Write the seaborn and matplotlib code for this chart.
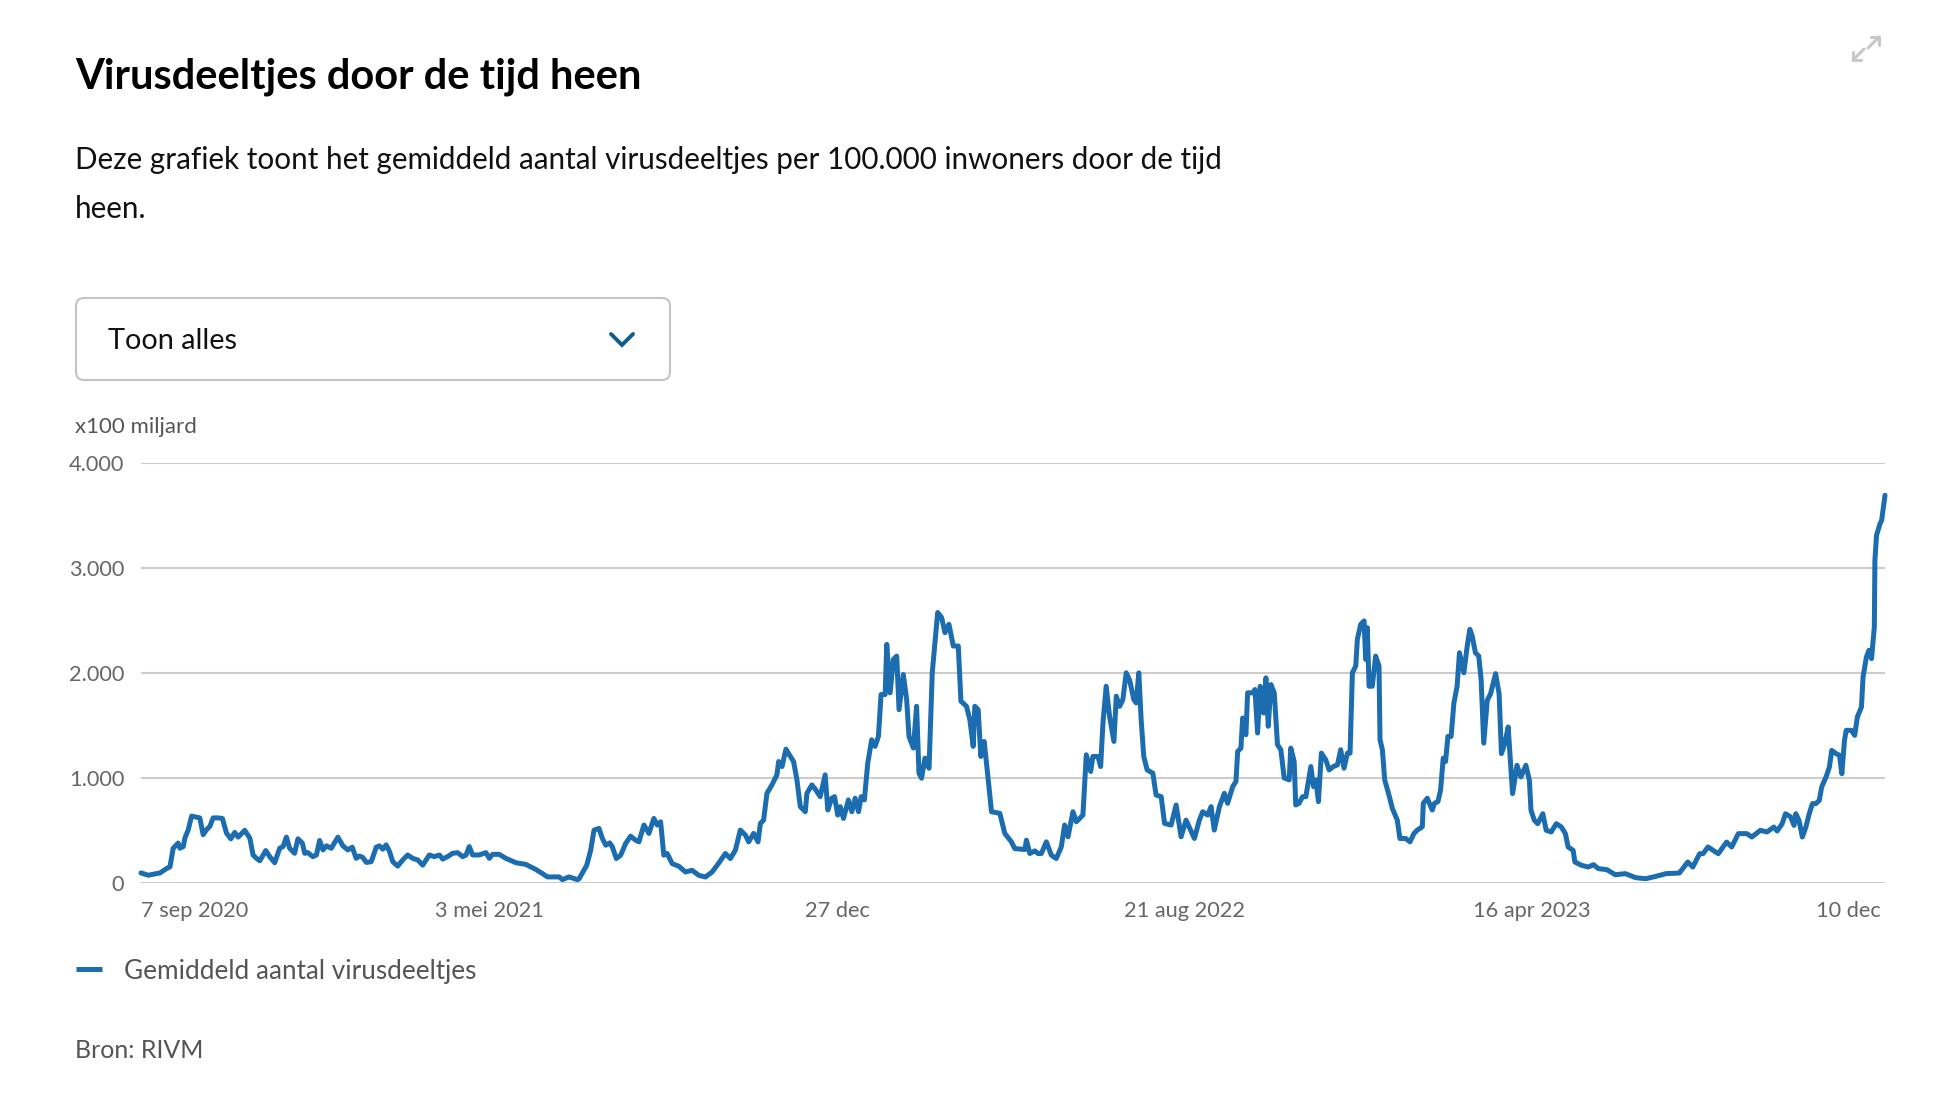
import numpy as np
import pandas as pd
import matplotlib
matplotlib.use("Agg")
import matplotlib.pyplot as plt
import seaborn as sns
from matplotlib.patches import FancyBboxPatch
from matplotlib.lines import Line2D
from matplotlib.transforms import IdentityTransform

# ---------------- data ----------------
start_date = "2020-09-07"

# days after start date, and values (x100 miljard per 100.000 inwoners)
days_2020 = [0, 5, 13, 17.5, 19.8, 22, 25.4, 26.6, 28.9, 30, 32.3, 34.6, 36.8, 40.2, 42.5, 44.8,
             47.1, 49.3, 52.7, 55.7, 58.4, 61.4, 64.1, 66.4, 70.9, 74.4, 76.6, 78.9, 81.2, 85.3,
             88, 91.4, 94.8, 97.1, 99.4, 101.6, 105, 107.3, 110.3, 111.9, 114.1, 117.5, 119.9,
             122.1, 124.4, 126.7, 130.1, 134.6, 138, 141.4, 144.4, 147.1, 149.4, 151.6, 154,
             157.4, 160.8, 163, 165.3, 167.6, 169.9, 172.1, 175.5, 178.9, 182.3, 185.7, 189.2,
             192.6, 197.1, 200.5, 204, 206.2, 209.6, 213, 216.4, 219.9, 222.2, 224.4, 226.7,
             231.2, 235.8, 238.1, 240.3, 244.9, 249.4, 256.3, 263.1, 269.9, 274.4, 277.8, 285.8,
             288.1, 292.6, 298.3]
vals_2020 = [96, 74, 96, 138, 154, 331, 380, 331, 347, 428, 508, 637, 630, 620, 460, 508,
             540, 620, 620, 614, 476, 421, 482, 437, 502, 428, 267, 235, 212, 309,
             251, 193, 331, 347, 437, 331, 283, 421, 380, 283, 289, 251, 267,
             405, 315, 354, 331, 437, 354, 315, 341, 235, 257, 244, 196,
             203, 341, 354, 322, 363, 299, 203, 161, 219, 267, 235, 219,
             170, 267, 251, 267, 228, 251, 283, 289, 251, 267, 347, 267,
             267, 289, 235, 273, 273, 235, 193, 177, 129, 90, 58, 58,
             32, 58, 32]

days_2021 = [299.5, 304.7, 307.4, 309.7, 313.1, 315.4, 317.7, 320.4, 322.2, 324.9, 327.9, 331.3,
             334.7, 338.1, 340.4, 343.8, 347.2, 350.6, 352.9, 355.2, 357.4, 359.7, 363.1, 367.7,
             372.2, 376.7, 381.3, 385.9, 390.4, 395, 399.5, 402.9, 406.3, 409.7, 413.2, 415.4,
             418.8, 421.8, 423.4, 425.6, 427.9, 431.3, 434.7, 435.9, 438.2, 440.9, 443.9, 446.1,
             448.4, 450.7, 454.1, 455.2, 458.6, 461.3, 464.3, 467.7, 469.5, 472.2, 474.1, 476.3,
             478, 480.2, 483.6, 485.9, 488.2, 490.5, 492.3, 494.5, 496.8, 499.5, 501.8, 504.1,
             505.9, 508.7, 509.8, 512.1, 514.3, 516.6, 518.2, 521.1, 523.4, 525, 528, 530.2,
             531.8, 533.6, 535.9, 538.7, 540.9, 544.6, 547.3, 549.6, 552.3, 555.3, 558.7, 560.5,
             564.3, 566.6, 568.9, 570, 572.3, 574.1, 576.4, 578.7, 581.4, 587.1, 590.5, 595,
             597.3, 604.2, 605.3, 607.6, 611, 613.2]
vals_2021 = [40, 169, 312, 504, 520, 424, 360, 382, 344, 233, 265, 376,
             446, 408, 392, 552, 472, 615, 552, 583, 265, 281, 185, 159,
             105, 121, 73, 57, 105, 191, 281, 233, 312, 504, 456, 392,
             472, 392, 567, 599, 854, 934, 1030, 1157, 1109, 1275, 1205, 1157,
             982, 727, 679, 854, 934, 886, 822, 1030, 695, 807, 822, 647,
             727, 615, 791, 679, 807, 679, 822, 791, 1141, 1364, 1301, 1396,
             1795, 1795, 2273, 1811, 2129, 2161, 1651, 1986, 1747, 1396, 1285, 1683,
             1046, 998, 1189, 1093, 2002, 2576, 2528, 2384, 2464, 2257, 2257, 1731,
             1683, 1556, 1301, 1683, 1651, 1205, 1348, 1046, 679, 663, 472, 392,
             328, 319, 408, 281, 306, 281]

days_2022 = [615.5, 618.9, 622.3, 625.7, 629.1, 631.4, 633.7, 637.1, 639.4, 643.9, 646.2, 649.2,
             650.7, 654.2, 656, 657.6, 659.8, 662.1, 665.1, 666.7, 669, 671.2, 673.5, 675.8,
             678.7, 680.3, 682.1, 683.7, 685.5, 687.8, 691.7, 693.9, 697.4, 699.7, 704.2, 707.6,
             711, 714.4, 720.1, 723.5, 725.8, 729.2, 731.5, 733.7, 737.2, 740.6, 742.8, 746.3,
             748.5, 749.7, 751.9, 753.1, 755.3, 756.5, 759.9, 761.5, 763.3, 765.1, 767.4, 769,
             770.6, 772.4, 774.7, 776.9, 779.2, 781.5, 784.9, 786, 788.3, 789.4, 791.7, 794,
             796.3, 799.7, 801.5, 803.1, 804.9, 806.9, 809.9, 812.2, 815.1, 817.9, 820.1, 822.4,
             824.7, 826.5, 828.1, 830.4, 831.5, 833.8, 836.1, 837.2, 838.3, 839.5, 841.7, 844,
             846.3, 847, 848.6, 850.2, 853.1, 855.4, 858.8, 860.6, 864.5, 867.5, 870.2, 872.5,
             875.9, 876.6, 879.3, 882.7, 884.2, 886.6, 888.4, 890.2, 891.8, 893.4, 895.6, 897.5,
             899.7, 901.3, 904.3, 906.6, 908.4, 910, 912.2, 914.5, 916.1, 917.9]
vals_2022 = [281, 392, 265, 233, 344, 552, 440, 679, 583, 647, 1221, 1062,
             1205, 1205, 1109, 1524, 1874, 1587, 1348, 1779, 1683, 1747, 2002, 1932,
             1747, 1715, 2002, 1556, 1205, 1077, 1046, 838, 822, 567, 552, 743,
             440, 599, 424, 599, 679, 647, 727, 504, 727, 854, 759, 918,
             966, 1253, 1285, 1572, 1412, 1811, 1811, 1843, 1428, 1874, 1619, 1954,
             1492, 1890, 1811, 1317, 1269, 1000, 982, 1285, 1157, 743, 759, 822,
             822, 1109, 918, 982, 775, 1237, 1173, 1077, 1109, 1125, 1269, 1093,
             1237, 1237, 2002, 2066, 2321, 2464, 2496, 2129, 2432, 1874, 1874, 2161,
             2066, 1364, 1269, 982, 838, 711, 599, 424, 424, 392, 472, 504,
             536, 759, 807, 695, 759, 775, 886, 1189, 1157, 1396, 1396, 1715,
             1874, 2193, 2002, 2257, 2416, 2353, 2193, 2161, 1938, 1332]

days_2023 = [920.3, 922.6, 926, 928.4, 930, 932.3, 934.6, 937.6, 940.6, 943.3, 946.7, 949.1,
             950.2, 952.5, 954.8, 958.3, 960.6, 964, 967.5, 971, 973.7, 975.6, 979, 980.2,
             984.8, 989.4, 992.9, 996.3, 1002.1, 1007.8, 1014.7, 1021.7, 1028.6, 1035.5, 1042.4,
             1051.6, 1057.4, 1060.8, 1065.5, 1067.8, 1071.2, 1074.7, 1078.2, 1083.9, 1087.4,
             1091.9, 1097.7, 1101.2, 1107, 1111.5, 1116.2, 1118.5, 1121.9, 1124.2, 1127.7, 1130,
             1131.2, 1133.4, 1135.7, 1138.1, 1140.4, 1142.6, 1144.9, 1147.3, 1148.9, 1151.9,
             1154.2, 1155.8, 1158.8, 1161.1, 1162.7, 1164.5, 1165.7, 1169.2, 1171.5, 1173.3,
             1176.1, 1177.2, 1179.5, 1181.2, 1183, 1184.9, 1185.3, 1186.4, 1188.8, 1189.9, 1192.2]
vals_2023 = [1740, 1803, 1994, 1803, 1232, 1327, 1486, 851, 1121, 1010, 1121, 978,
             692, 597, 565, 660, 502, 486, 565, 533, 470, 343, 311, 200,
             168, 152, 175, 137, 127, 79, 89, 51, 41, 63, 89,
             95, 200, 152, 279, 279, 343, 311, 279, 390, 343,
             470, 470, 438, 502, 486, 533, 495, 565, 660, 629, 549,
             660, 597, 438, 533, 660, 756, 756, 787, 914, 1010,
             1105, 1263, 1232, 1216, 1041, 1359, 1454, 1454, 1406, 1581,
             1676, 1962, 2152, 2216, 2137, 2438, 3073, 3311, 3422, 3454, 3692]

tick_dates = ["2020-09-07", "2021-05-03", "2021-12-27", "2022-08-21", "2023-04-16", "2023-12-10"]
tick_labels = ["7 sep 2020", "3 mei 2021", "27 dec", "21 aug 2022", "16 apr 2023", "10 dec"]
y_ticks = [0, 1000, 2000, 3000, 4000]
y_tick_labels = ["0", "1.000", "2.000", "3.000", "4.000"]
series_name = "Gemiddeld aantal virusdeeltjes"

title = "Virusdeeltjes door de tijd heen"
subtitle_1 = "Deze grafiek toont het gemiddeld aantal virusdeeltjes per 100.000 inwoners door de tijd"
subtitle_2 = "heen."
dropdown_text = "Toon alles"
unit_text = "x100 miljard"
source_text = "Bron: RIVM"

# ---------------- build frame ----------------
all_days = days_2020 + days_2021 + days_2022 + days_2023
all_vals = vals_2020 + vals_2021 + vals_2022 + vals_2023
df = pd.DataFrame({
    "datum": pd.Timestamp(start_date) + pd.to_timedelta(np.array(all_days), unit="D"),
    "waarde": all_vals,
})

# ---------------- style ----------------
sns.set_theme(style="white")
plt.rcParams["font.family"] = ["Lato", "DejaVu Sans"]

W, H = 1952, 1094
fig = plt.figure(figsize=(W / 100, H / 100), dpi=100)
fig.patch.set_facecolor("white")

def fx(x):
    return x / W

def fy(y):
    return 1 - y / H

LINE_BLUE = "#1c6cb0"
TICK_SIZE = 15.7

ax = fig.add_axes([fx(141), fy(883), fx(1885) - fx(141), fy(463) - fy(883)])
sns.lineplot(data=df, x="datum", y="waarde", ax=ax, color=LINE_BLUE, linewidth=3.6,
             estimator=None, sort=False, legend=False)
for ln in ax.lines:
    ln.set_clip_on(False)
    ln.set_solid_joinstyle("round")

ax.set_xlim(df["datum"].min(), df["datum"].max())
ax.set_ylim(0, 4000)
ax.set_yticks(y_ticks)
ax.set_yticklabels(y_tick_labels)
ax.set_xticks(pd.to_datetime(tick_dates))
ax.set_xticklabels(tick_labels)
ax.set_xlabel("")
ax.set_ylabel("")
for s in ax.spines.values():
    s.set_visible(False)
ax.yaxis.grid(True, color="#cccccc", linewidth=1.5)
ax.xaxis.grid(False)
ax.set_axisbelow(True)
ax.tick_params(axis="y", length=0, pad=12, labelsize=TICK_SIZE, labelcolor="#666666")
ax.tick_params(axis="x", length=0, pad=13, labelsize=TICK_SIZE, labelcolor="#666666")
xl = ax.get_xticklabels()
xl[0].set_horizontalalignment("left")
xl[-1].set_horizontalalignment("right")

# ---------------- texts ----------------
fig.text(fx(75), fy(88), title, fontsize=30, fontweight="bold", color="#000000", va="baseline")
fig.text(fx(75), fy(169.5), subtitle_1, fontsize=21.3, color="#111111", va="baseline")
fig.text(fx(75), fy(217.5), subtitle_2, fontsize=21.3, color="#111111", va="baseline")

box = FancyBboxPatch((76, H - 380), 594, 82, boxstyle="round,pad=0,rounding_size=8",
                     transform=IdentityTransform(), facecolor="white",
                     edgecolor="#c4c4c4", linewidth=1.5)
fig.add_artist(box)
fig.text(fx(108), fy(349), dropdown_text, fontsize=20.8, color="#111111", va="baseline")
chev = Line2D([611, 622, 633], [H - 334, H - 345, H - 334], transform=IdentityTransform(),
              color="#0f5d8c", linewidth=2.8, solid_capstyle="round", solid_joinstyle="miter")
fig.add_artist(chev)

fig.text(fx(75), fy(433), unit_text, fontsize=16, color="#555555", va="baseline")

# legend
handle = Line2D([], [], color=LINE_BLUE, linewidth=3.6, solid_capstyle="butt")
fig.legend([handle], [series_name], loc="center left",
           bbox_to_anchor=(fx(76), fy(971)), frameon=False, fontsize=18.8,
           handlelength=1.0, handletextpad=0.85, borderpad=0, borderaxespad=0,
           labelcolor="#555555")

fig.text(fx(75), fy(1058), source_text, fontsize=18, color="#555555", va="baseline")

# expand icon (top right)
icon_col = "#c8c8c8"
for xs, ys in [([1868, 1879], [48, 37]), ([1871, 1879, 1879], [37, 37, 45]),
               ([1864, 1853], [49, 60]), ([1853, 1853, 1861], [52, 60, 60])]:
    fig.add_artist(Line2D(xs, [H - y for y in ys], transform=IdentityTransform(),
                          color=icon_col, linewidth=2.2))

fig.savefig("out.png", dpi=100, facecolor="white")
